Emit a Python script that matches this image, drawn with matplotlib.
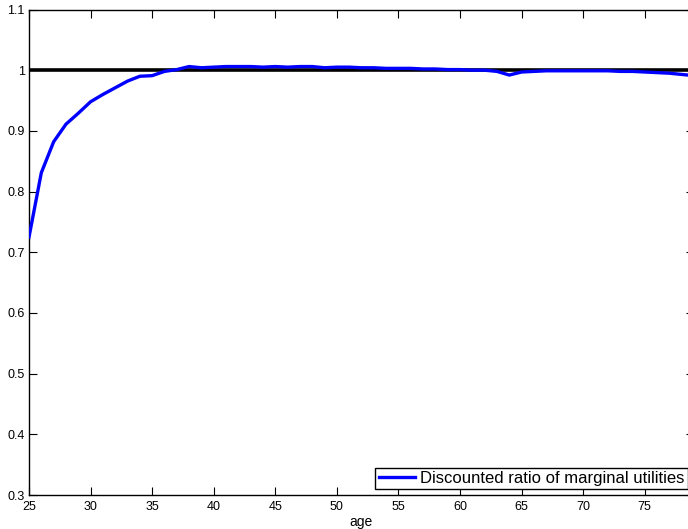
import numpy as np
import matplotlib
matplotlib.use("Agg")
import matplotlib.pyplot as plt

plt.rcParams['font.family'] = ['Liberation Sans', 'DejaVu Sans']

# data
ages = list(range(25, 80))
ratio = [0.725, 0.831, 0.882, 0.911, 0.929, 0.948, 0.960, 0.971, 0.982, 0.990,
         0.991, 0.998, 1.001, 1.006, 1.004, 1.005, 1.006, 1.006, 1.006, 1.005,
         1.006, 1.005, 1.006, 1.006, 1.004, 1.005, 1.005, 1.004, 1.004, 1.003,
         1.003, 1.003, 1.002, 1.002, 1.001, 1.001, 1.000, 1.000, 0.998, 0.992,
         0.997, 0.998, 0.999, 0.999, 0.999, 0.999, 0.999, 0.999, 0.998, 0.998,
         0.997, 0.996, 0.995, 0.993, 0.991]
xticks = [25, 30, 35, 40, 45, 50, 55, 60, 65, 70, 75]
yticks = [0.3, 0.4, 0.5, 0.6, 0.7, 0.8, 0.9, 1.0, 1.1]
ylabels = ['0.3', '0.4', '0.5', '0.6', '0.7', '0.8', '0.9', '1', '1.1']

W, H = 688, 529
fig = plt.figure(figsize=(W / 100, H / 100), dpi=100)
# axes run past the right edge of the figure, as in the reference
left, right, top, bottom = 29, 694, 9.5, 495
ax = fig.add_axes([left / W, (H - bottom) / H, (right - left) / W, (bottom - top) / H])

ax.axhline(1.0, color='black', lw=2.6, zorder=2)
ax.plot(ages, ratio, color='#0000ff', lw=2.4, zorder=3,
        label='Discounted ratio of marginal utilities')

ax.set_xlim(25, 79)
ax.set_ylim(0.3, 1.1)
ax.set_xticks(xticks)
ax.set_yticks(yticks)
ax.set_yticklabels(ylabels)
ax.tick_params(direction='in', length=6, width=0.8, top=True, right=True,
               labelsize=9, colors='black')
ax.tick_params(axis='x', pad=4)
ax.tick_params(axis='y', pad=3)
for s in ax.spines.values():
    s.set_linewidth(1.0)
ax.set_xlabel('age', fontsize=10, labelpad=2)

leg = ax.legend(loc='lower right', fontsize=12, frameon=True, fancybox=False,
                edgecolor='black', framealpha=1, borderpad=0.2, handlelength=2.2,
                handletextpad=0.3, borderaxespad=0.35)
leg.get_frame().set_linewidth(1.0)

fig.savefig('out.png', dpi=100)
